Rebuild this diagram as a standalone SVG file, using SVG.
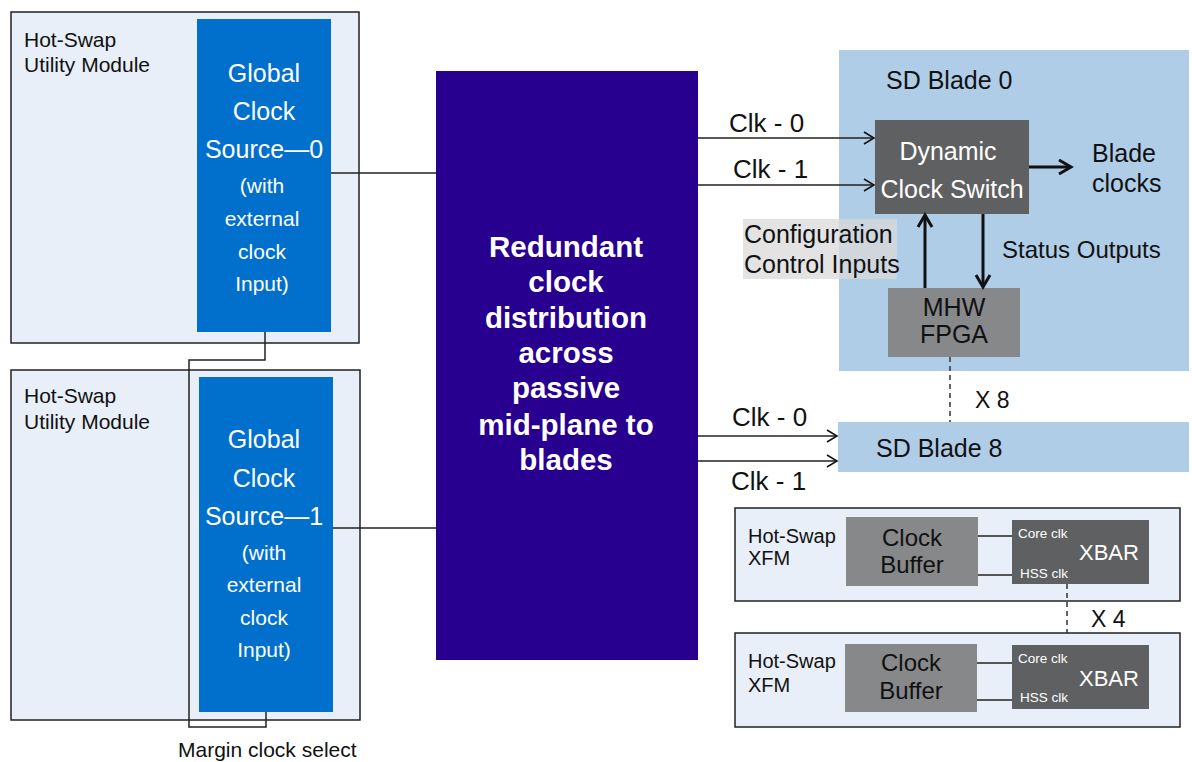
<svg xmlns="http://www.w3.org/2000/svg" width="1192" height="762" viewBox="0 0 1192 762">
<style>
text{font-family:"Liberation Sans",Arial,sans-serif;}
.mod{fill:#E8EFF8;stroke:#222;stroke-width:1.5;}
.src{fill:#0070CC;}
.srct{fill:#fff;font-size:25px;text-anchor:middle;}
.srcs{fill:#fff;font-size:21px;text-anchor:middle;}
.lbl{fill:#111;font-size:21px;}
.xl{fill:#111;font-size:20px;}
.big{fill:#111;font-size:25px;}
.mid{fill:#fff;font-size:29.5px;font-weight:bold;text-anchor:middle;}
.dk{fill:#5F6062;}
.md{fill:#87888A;}
.wt{fill:#fff;font-size:25px;text-anchor:middle;}
.dt{fill:#111;font-size:25px;text-anchor:middle;}
.ln{stroke:#222;stroke-width:1.5;fill:none;}
.thk{stroke:#111;stroke-width:3;fill:none;}
.dash{stroke:#333;stroke-width:1.5;stroke-dasharray:5,4;fill:none;}
.sm{fill:#fff;font-size:13.5px;}
</style>
<defs>
<marker id="open" markerWidth="14" markerHeight="14" refX="11" refY="7" orient="auto" markerUnits="userSpaceOnUse">
<path d="M1,1 L11,7 L1,13" fill="none" stroke="#111" stroke-width="1.5"/>
</marker>
<marker id="thick" markerWidth="18" markerHeight="18" refX="14" refY="9" orient="auto" markerUnits="userSpaceOnUse">
<path d="M2,2 L14,9 L2,16" fill="none" stroke="#111" stroke-width="3"/>
</marker>
</defs>

<g id="util0">
<rect class="mod" x="11" y="12" width="348" height="331"/>
<text class="lbl" x="24" y="47">Hot-Swap</text>
<text class="lbl" x="24" y="72">Utility Module</text>
</g>
<g id="gcs0">
<rect class="src" x="197" y="19" width="134" height="313"/>
<text class="srct" x="264" y="82">Global</text>
<text class="srct" x="264" y="120">Clock</text>
<text class="srct" x="264" y="158">Source—0</text>
<text class="srcs" x="262" y="193">(with</text>
<text class="srcs" x="262" y="226">external</text>
<text class="srcs" x="262" y="259">clock</text>
<text class="srcs" x="262" y="291">Input)</text>
</g>

<g id="util1">
<rect class="mod" x="11" y="370" width="349" height="350"/>
<text class="lbl" x="24" y="403">Hot-Swap</text>
<text class="lbl" x="24" y="429">Utility Module</text>
</g>
<g id="gcs1">
<rect class="src" x="199" y="377" width="134" height="335"/>
<text class="srct" x="264" y="448">Global</text>
<text class="srct" x="264" y="487">Clock</text>
<text class="srct" x="264" y="525">Source—1</text>
<text class="srcs" x="264" y="560">(with</text>
<text class="srcs" x="264" y="592">external</text>
<text class="srcs" x="264" y="625">clock</text>
<text class="srcs" x="264" y="657">Input)</text>
</g>

<g id="midplane">
<rect x="436" y="71" width="262" height="589" fill="#280090"/>
<text class="mid" x="566" y="257">Redundant</text>
<text class="mid" x="566" y="292">clock</text>
<text class="mid" x="566" y="328">distribution</text>
<text class="mid" x="566" y="363">across</text>
<text class="mid" x="566" y="398">passive</text>
<text class="mid" x="566" y="435">mid-plane to</text>
<text class="mid" x="566" y="470">blades</text>
</g>

<g id="blade0">
<rect x="839" y="50" width="350" height="321" fill="#B0CDE8"/>
<text class="big" x="886" y="89">SD Blade 0</text>
</g>
<g id="dcs">
<rect class="dk" x="875" y="120" width="154" height="94"/>
<text class="wt" x="948" y="160">Dynamic</text>
<text class="wt" x="952" y="198">Clock Switch</text>
</g>
<g id="fpga">
<rect class="md" x="888" y="288" width="132" height="69"/>
<text class="dt" x="954" y="316">MHW</text>
<text class="dt" x="954" y="343">FPGA</text>
</g>
<g id="config">
<rect x="743" y="219" width="154" height="60" fill="#D9D9D9" fill-opacity="0.75"/>
<text class="big" x="744" y="243">Configuration</text>
<text class="big" x="744" y="273">Control Inputs</text>
</g>
<g id="bladeclocks">
<text class="big" x="1092" y="162">Blade</text>
<text class="big" x="1092" y="192">clocks</text>
</g>
<g id="status">
<text class="big" x="1002" y="258" style="font-size:24px">Status Outputs</text>
</g>

<g id="blade8">
<rect x="838" y="422" width="351" height="50" fill="#B0CDE8"/>
<text class="big" x="876" y="457">SD Blade 8</text>
</g>

<g id="xfm0">
<rect class="mod" x="735" y="508" width="445" height="93"/>
<text class="xl" x="748" y="543">Hot-Swap</text>
<text class="xl" x="748" y="565">XFM</text>
</g>
<g id="buf0">
<rect class="md" x="846" y="517" width="132" height="69"/>
<text class="dt" x="912" y="546" style="font-size:24px">Clock</text>
<text class="dt" x="912" y="573" style="font-size:24px">Buffer</text>
</g>
<g id="xbar0">
<rect class="dk" x="1012" y="520" width="137" height="64"/>
<text class="sm" x="1018" y="538">Core clk</text>
<text class="sm" x="1020" y="578">HSS clk</text>
<text x="1079" y="560" fill="#fff" style="font-size:22px">XBAR</text>
</g>

<g id="xfm1">
<rect class="mod" x="735" y="633" width="445" height="94"/>
<text class="xl" x="748" y="668">Hot-Swap</text>
<text class="xl" x="748" y="692">XFM</text>
</g>
<g id="buf1">
<rect class="md" x="845" y="644" width="132" height="68"/>
<text class="dt" x="911" y="671" style="font-size:24px">Clock</text>
<text class="dt" x="911" y="699" style="font-size:24px">Buffer</text>
</g>
<g id="xbar1">
<rect class="dk" x="1012" y="645" width="137" height="64"/>
<text class="sm" x="1018" y="663">Core clk</text>
<text class="sm" x="1020" y="702">HSS clk</text>
<text x="1079" y="686" fill="#fff" style="font-size:22px">XBAR</text>
</g>

<g id="labels">
<text class="big" x="729" y="132" style="font-size:26px">Clk - 0</text>
<text class="big" x="733" y="178" style="font-size:26px">Clk - 1</text>
<text class="big" x="732" y="426" style="font-size:26px">Clk - 0</text>
<text class="big" x="731" y="490" style="font-size:26px">Clk - 1</text>
<text class="big" x="975" y="408" style="font-size:23px">X 8</text>
<text class="big" x="1091" y="627" style="font-size:23px">X 4</text>
<text class="lbl" x="178" y="757">Margin clock select</text>
</g>

<g id="connectors">
<path class="ln" d="M331,173 H436"/>
<path class="ln" d="M333,528 H436"/>
<path class="ln" d="M265,332 V360 H189 V727 H266 V712"/>
<path class="ln" d="M698,138 H874" marker-end="url(#open)"/>
<path class="ln" d="M698,185 H874" marker-end="url(#open)"/>
<path class="ln" d="M698,436 H837" marker-end="url(#open)"/>
<path class="ln" d="M698,461 H837" marker-end="url(#open)"/>
<path class="thk" d="M1029,167 H1071" marker-end="url(#thick)"/>
<path class="thk" d="M925,288 V215" marker-end="url(#thick)"/>
<path class="thk" d="M983,214 V287" marker-end="url(#thick)"/>
<path class="dash" d="M950,357 V422"/>
<path class="dash" d="M1067,584 V633"/>
<path class="ln" d="M978,536 H1012"/>
<path class="ln" d="M978,575 H1012"/>
<path class="ln" d="M977,663 H1012"/>
<path class="ln" d="M977,700 H1012"/>
</g>
</svg>
